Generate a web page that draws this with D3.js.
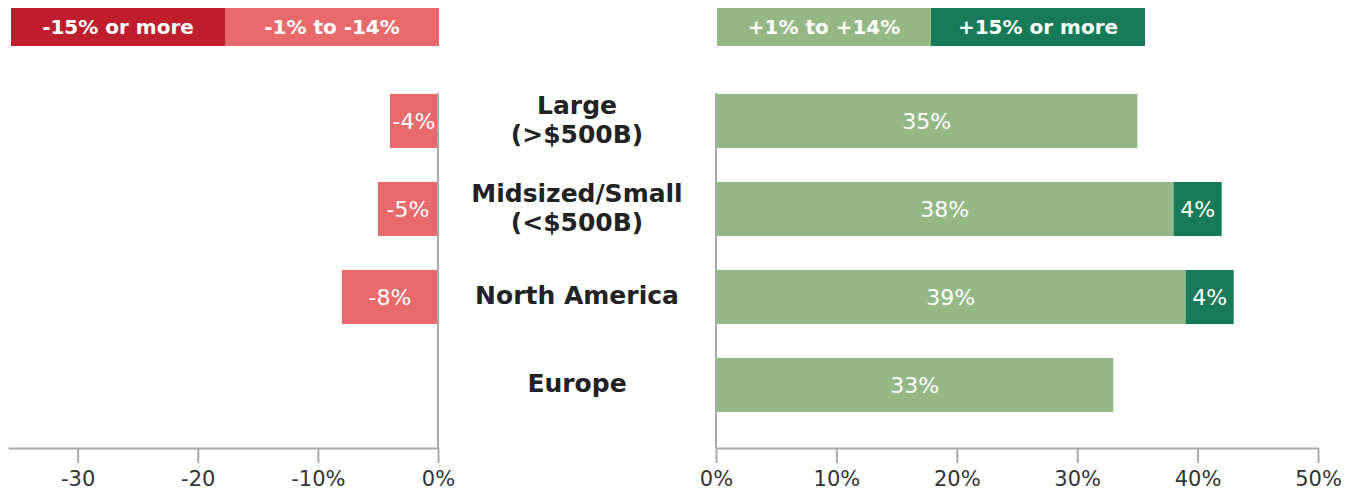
<!DOCTYPE html>
<html>
<head>
<meta charset="utf-8">
<script src="https://cdn.jsdelivr.net/npm/d3@7"></script>
<style>
body { margin:0; background:#fff; }
text { font-family: "DejaVu Sans", sans-serif; }
</style>
</head>
<body>
<div id="chart"></div>
<script>
"use strict";

// data
let categories = ["Large|(>$500B)", "Midsized/Small|(<$500B)", "North America", "Europe"];
let neg15 = [0, 0, 0, 0];
let neg1to14 = [4, 5, 8, 0];
let pos1to14 = [35, 38, 39, 33];
let pos15 = [0, 4, 4, 0];

let legendNeg = ["-15% or more", "-1% to -14%"];
let legendPos = ["+1% to +14%", "+15% or more"];
let leftTicks = [-30, -20, -10, 0];
let rightTicks = [0, 10, 20, 30, 40, 50];

let darkRed = "#be1e2d", lightRed = "#e96a6d", lightGreen = "#94b986", darkGreen = "#177a58";

let svg = d3.select("#chart")
.append("svg")
.attr("width",1365)
.attr("height",494);

// scales
let xLeft = d3.scaleLinear()
.domain([-35.8,0])
.range([8,438]);

let xRight = d3.scaleLinear()
.domain([0,50])
.range([716,1318]);

let yScale = d3.scaleBand()
.domain(categories)
.range([94,412])
.paddingInner(0.386)
.paddingOuter(0);

let rows = categories.map(function(c,i){
  return {cat:c, n15:neg15[i], n1:neg1to14[i], p1:pos1to14[i], p15:pos15[i]};
});

// negative bars
let negSegs = [];
rows.forEach(function(d){
  if(d.n1>0) negSegs.push({cat:d.cat, x0:-d.n1, x1:0, color:lightRed, label:"-"+d.n1+"%"});
  if(d.n15>0) negSegs.push({cat:d.cat, x0:-d.n1-d.n15, x1:-d.n1, color:darkRed, label:"-"+d.n15+"%"});
});

let posSegs = [];
rows.forEach(function(d){
  if(d.p1>0) posSegs.push({cat:d.cat, x0:0, x1:d.p1, color:lightGreen, label:d.p1+"%"});
  if(d.p15>0) posSegs.push({cat:d.cat, x0:d.p1, x1:d.p1+d.p15, color:darkGreen, label:d.p15+"%"});
});

function drawSegs(segs, xs){
  let g = svg.append("g");
  g.selectAll("rect")
  .data(segs)
  .join("rect")
  .attr("x", function(d){ return xs(d.x0); })
  .attr("y", function(d){ return yScale(d.cat); })
  .attr("width", function(d){ return xs(d.x1)-xs(d.x0); })
  .attr("height", yScale.bandwidth())
  .attr("fill", function(d){ return d.color; });

  g.selectAll("text")
  .data(segs)
  .join("text")
  .attr("x", function(d){ return (xs(d.x0)+xs(d.x1))/2; })
  .attr("y", function(d){ return yScale(d.cat)+yScale.bandwidth()/2; })
  .attr("dy","0.36em")
  .attr("text-anchor","middle")
  .attr("fill","#fff")
  .attr("font-size",22)
  .text(function(d){ return d.label; });
}

drawSegs(negSegs, xLeft);
drawSegs(posSegs, xRight);

// axes
function styleAxis(g){
  g.select(".domain").attr("stroke","#aaa").attr("stroke-width",2);
  g.selectAll(".tick line").attr("stroke","#aaa").attr("stroke-width",2);
  g.selectAll(".tick text").attr("fill","#333").attr("font-size",21)
   .attr("font-family","DejaVu Sans, sans-serif");
}

let leftAxis = svg.append("g")
.attr("transform","translate(0,448)")
.call(d3.axisBottom(xLeft).tickValues(leftTicks).tickSize(15).tickSizeOuter(0).tickPadding(8)
  .tickFormat(function(d){ return (d===-10||d===0) ? d+"%" : String(d); }));
styleAxis(leftAxis);

let rightAxis = svg.append("g")
.attr("transform","translate(0,448)")
.call(d3.axisBottom(xRight).tickValues(rightTicks).tickSize(15).tickSizeOuter(0).tickPadding(8)
  .tickFormat(function(d){ return d+"%"; }));
styleAxis(rightAxis);

// vertical zero lines
svg.append("line")
.attr("x1",xLeft(0)).attr("x2",xLeft(0))
.attr("y1",93).attr("y2",448)
.attr("stroke","#aaa").attr("stroke-width",2);

svg.append("line")
.attr("x1",xRight(0)).attr("x2",xRight(0))
.attr("y1",93).attr("y2",448)
.attr("stroke","#aaa").attr("stroke-width",2);

// category labels
categories.forEach(function(c){
  let lines = c.split("|");
  let cy = yScale(c)+yScale.bandwidth()/2 - 2;
  let t = svg.append("text")
  .attr("x",577)
  .attr("text-anchor","middle")
  .attr("fill","#222")
  .attr("font-size",25)
  .attr("font-weight","bold");
  lines.forEach(function(l,i){
    t.append("tspan")
    .attr("x",577)
    .attr("y", cy + (i-(lines.length-1)/2)*29)
    .attr("dy","0.36em")
    .text(l);
  });
});

// legends
let legNegColors = [darkRed, lightRed];
let legPosColors = [lightGreen, darkGreen];

function drawLegend(labels, colors, x0){
  for(let i=0;i<labels.length;i=i+1){
    svg.append("rect")
    .attr("x",x0+i*214)
    .attr("y",8)
    .attr("width",214)
    .attr("height",38)
    .attr("fill",colors[i]);

    svg.append("text")
    .attr("x",x0+i*214+107)
    .attr("y",27)
    .attr("dy","0.36em")
    .attr("text-anchor","middle")
    .attr("fill","#fff")
    .attr("font-size",20)
    .attr("font-weight","bold")
    .text(labels[i]);
  }
}

drawLegend(legendNeg, legNegColors, 11);
drawLegend(legendPos, legPosColors, 717);
</script>
</body>
</html>
